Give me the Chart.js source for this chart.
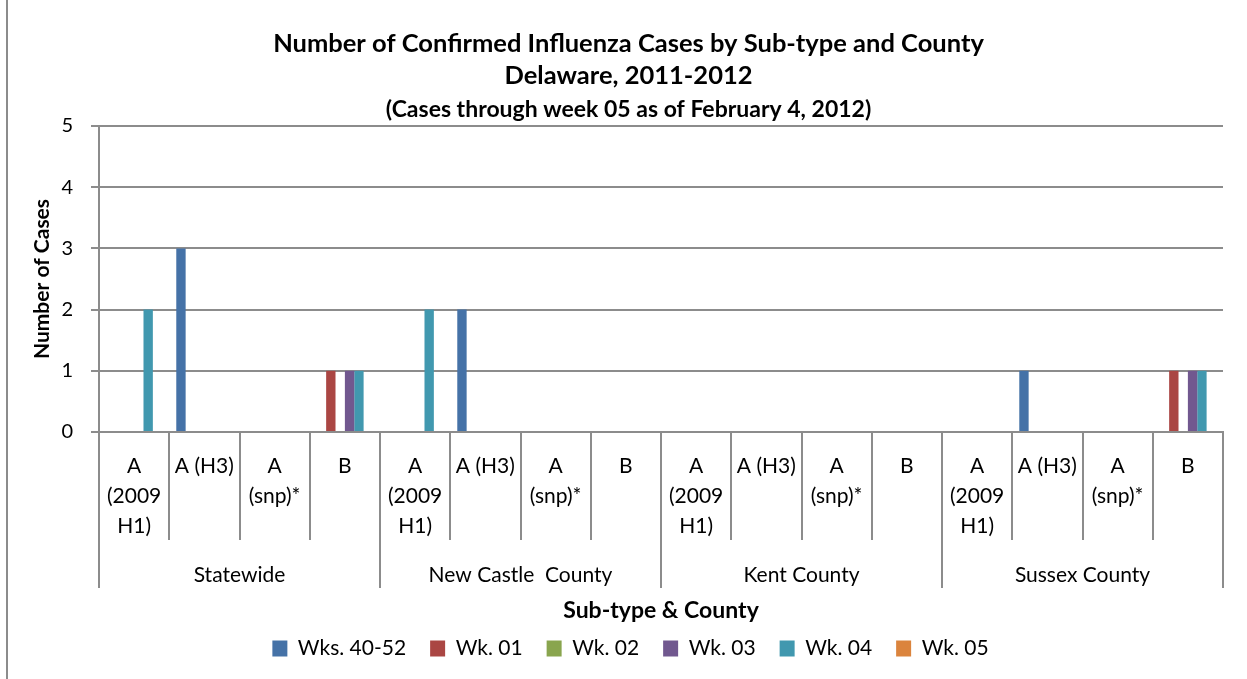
<!DOCTYPE html>
<html>
<head>
<meta charset="utf-8">
<title>Confirmed Influenza Cases by Sub-type and County</title>
<script src="https://cdn.jsdelivr.net/npm/chart.js@4.4.0/dist/chart.umd.min.js"></script>
<style>
  html, body { margin: 0; padding: 0; background: #fff; }
  #wrap { position: relative; width: 1247px; height: 679px; }
  #wrap::before { content: ''; position: absolute; left: 6px; top: 0; bottom: 0; width: 2px; background: #8c8c8c; }
</style>
</head>
<body>
<div id="wrap"><canvas id="fluChart" width="1247" height="679"></canvas></div>
<script>
// --- data ---
const subtypes = [['A', '(2009', 'H1)'], 'A (H3)', ['A', '(snp)*'], 'B'];
const counties = ['Statewide', 'New Castle  County', 'Kent County', 'Sussex County'];
const categories = [...subtypes, ...subtypes, ...subtypes, ...subtypes];

const seriesNames = ['Wks. 40-52', 'Wk. 01', 'Wk. 02', 'Wk. 03', 'Wk. 04', 'Wk. 05'];
//                 Statewide    New Castle   Kent         Sussex
const wks4052 = [0, 3, 0, 0,   0, 2, 0, 0,  0, 0, 0, 0,  0, 1, 0, 0];
const wk01    = [0, 0, 0, 1,   0, 0, 0, 0,  0, 0, 0, 0,  0, 0, 0, 1];
const wk02    = [0, 0, 0, 0,   0, 0, 0, 0,  0, 0, 0, 0,  0, 0, 0, 0];
const wk03    = [0, 0, 0, 1,   0, 0, 0, 0,  0, 0, 0, 0,  0, 0, 0, 1];
const wk04    = [2, 0, 0, 1,   2, 0, 0, 0,  0, 0, 0, 0,  0, 0, 0, 1];
const wk05    = [0, 0, 0, 0,   0, 0, 0, 0,  0, 0, 0, 0,  0, 0, 0, 0];
const seriesValues = [wks4052, wk01, wk02, wk03, wk04, wk05];

const yTicks = [0, 1, 2, 3, 4, 5];

// --- styles ---
const colors = ['#4572A7', '#AA4643', '#89A54E', '#71588F', '#4198AF', '#DB843D'];
const gridGray = '#8c8c8c';

Chart.defaults.font.family = 'Lato';
Chart.defaults.color = '#000';

const datasets = seriesNames.map((name, i) => ({
    label: name,
    data: seriesValues[i],
    backgroundColor: colors[i],
    borderWidth: 0,
    categoryPercentage: 0.8,
    barPercentage: 1.0
}));

// titles and legend are centred on the whole picture, not on the padded area
const recentre = {
    id: 'recentre',
    afterLayout(chart) {
        chart.boxes.forEach(box => {
            const isTitle = box.options && box.options.text !== undefined && !box.axis;
            if (isTitle) { box.left += 12; box.right += 12; }
            if (box === chart.legend) { box.left += 14; box.right += 14; box.top += 2; box.bottom += 2; }
        });
    }
};

new Chart(document.getElementById('fluChart').getContext('2d'), {
    type: 'bar',
    data: { labels: categories, datasets: datasets },
    plugins: [recentre],
    options: {
        responsive: false,
        animation: false,
        layout: { padding: { left: 10, right: 24, top: 0, bottom: 12 } },
        plugins: {
            title: {
                display: true,
                text: ['Number of Confirmed Influenza Cases by Sub-type and County', 'Delaware, 2011-2012'],
                font: { size: 25.5, weight: 'bold', lineHeight: '32px' },
                color: '#000',
                padding: { top: 28, bottom: 0 }
            },
            subtitle: {
                display: true,
                text: '(Cases through week 05 as of February 4, 2012)',
                font: { size: 23, weight: 'bold', lineHeight: '24px' },
                color: '#000',
                padding: { top: 6, bottom: 4 }
            },
            legend: {
                position: 'bottom',
                labels: {
                    boxWidth: 15,
                    boxHeight: 16,
                    padding: 24,
                    color: '#000',
                    font: { size: 21 }
                }
            },
            tooltip: { enabled: false }
        },
        scales: {
            x: {
                type: 'category',
                position: 'bottom',
                weight: 0,
                offset: true,
                grid: { drawOnChartArea: false, offset: true, tickLength: 108, color: gridGray, lineWidth: 2 },
                border: { color: gridGray, width: 2 },
                ticks: {
                    autoSkip: false, maxRotation: 0, minRotation: 0,
                    padding: -89,
                    font: { size: 21, lineHeight: '30px' }
                },
                afterFit: (scale) => { scale.height = 108; }
            },
            x2: {
                type: 'category',
                labels: counties,
                position: 'bottom',
                weight: 1,
                offset: true,
                grid: { drawOnChartArea: false, offset: true, tickLength: 48, color: gridGray, lineWidth: 2 },
                border: { display: false },
                ticks: {
                    autoSkip: false, maxRotation: 0, minRotation: 0,
                    padding: -25,
                    font: { size: 21, lineHeight: '25px' }
                },
                title: {
                    display: true,
                    text: 'Sub-type & County',
                    font: { size: 23, weight: 'bold', lineHeight: '27px' },
                    padding: { top: 0, bottom: -12.5 }
                },
                afterFit: (scale) => { scale.height = 72; }
            },
            y: {
                min: 0,
                max: 5,
                afterBuildTicks: (scale) => { scale.ticks = yTicks.map(v => ({ value: v })); },
                grid: { color: gridGray, lineWidth: 2, tickLength: 8 },
                border: { color: gridGray, width: 2 },
                ticks: { padding: 18, font: { size: 20 } },
                title: {
                    display: true,
                    text: 'Number of Cases',
                    font: { size: 21, weight: 'bold', lineHeight: '25px' },
                    padding: { top: 19.5, bottom: 0 }
                },
                afterFit: (scale) => { scale.width = 89; }
            }
        }
    }
});
</script>
</body>
</html>
